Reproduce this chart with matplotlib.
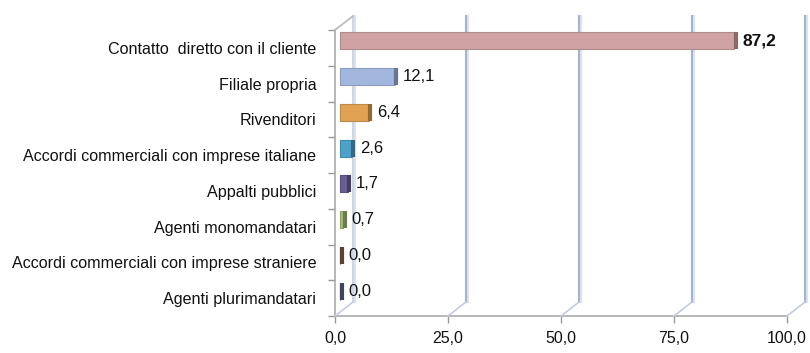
import matplotlib
matplotlib.use("Agg")
import matplotlib.pyplot as plt
import matplotlib.transforms as mtransforms
from matplotlib.colors import to_rgb

plt.rcParams['font.family'] = ['Liberation Sans', 'DejaVu Sans']

categories = [
    "Contatto  diretto con il cliente",
    "Filiale propria",
    "Rivenditori",
    "Accordi commerciali con imprese italiane",
    "Appalti pubblici",
    "Agenti monomandatari",
    "Accordi commerciali con imprese straniere",
    "Agenti plurimandatari",
]
values = [87.2, 12.1, 6.4, 2.6, 1.7, 0.7, 0.0, 0.0]
colors = ["#cfa3a3", "#a3b6de", "#e1a254", "#4ba3c9", "#6b5e96", "#a6bf72", "#8d6352", "#5f6a8c"]
xticks = [0, 25, 50, 75, 100]

W, H = 810, 353
fig = plt.figure(figsize=(W / 100, H / 100), dpi=100)
ax = fig.add_axes([335 / W, 1 - 316 / H, 452 / W, 286 / H])


def shift(dx, dy):
    # pixel offset (dpi is 100)
    return mtransforms.ScaledTranslation(dx / 100, dy / 100, fig.dpi_scale_trans)


def darker(c, f=0.6):
    r, g, b = to_rgb(c)
    return (r * f, g * f, b * f)


DX, DY = 18, 14
grid_tr = ax.get_xaxis_transform() + shift(DX, DY)

# back wall vertical gridlines with a soft shadow
for t in xticks:
    main = "#d0d6e0" if t == 0 else "#a4b4d0"
    ax.plot([t, t], [0, 1], transform=grid_tr + shift(1.5, 0), color="#dde3ee", lw=1.6, clip_on=False, zorder=1)
    ax.plot([t, t], [0, 1], transform=grid_tr, color=main, lw=1.5, clip_on=False, zorder=1)
    # floor diagonal from tick to wall
    ax.annotate("", xy=(t, 0), xycoords=ax.get_xaxis_transform(),
                xytext=(DX * 0.72, DY * 0.72), textcoords="offset points",
                arrowprops=dict(arrowstyle="-", color="#c3ccdc", lw=1.2, shrinkA=0, shrinkB=0),
                annotation_clip=False)

# left wall top diagonal
ax.annotate("", xy=(0, 1), xycoords="axes fraction",
            xytext=(DX * 0.72, DY * 0.72), textcoords="offset points",
            arrowprops=dict(arrowstyle="-", color="#b9b9b9", lw=1.2, shrinkA=0, shrinkB=0),
            annotation_clip=False)

y = list(range(len(categories)))
bar_tr = ax.transData + shift(5, 7)
h = 0.48
ax.barh(y, values, height=h, color=colors, edgecolor=[darker(c, 0.85) for c in colors],
        linewidth=0.8, transform=bar_tr, zorder=3)
for yi, v, c in zip(y, values, colors):
    # right face of the bar
    ax.plot([v, v], [yi - h / 2, yi + h / 2], transform=ax.transData + shift(6.5, 7),
            color=darker(c, 0.65), lw=3, solid_capstyle="butt", zorder=4)
    bold = v == max(values)
    ax.text(v, yi, f"{v:.1f}".replace(".", ","), transform=ax.transData + shift(13, 7),
            ha="left", va="center", fontsize=12.5 if bold else 12,
            fontweight="bold" if bold else "normal", color="#111111", zorder=5)

ax.set_xlim(0, 100)
ax.set_ylim(len(categories) - 0.5, -0.5)

ax.set_yticks([i + 0.5 for i in range(-1, len(categories))])
ax.set_yticklabels([])
ax.set_yticks(y, minor=True)
ax.set_yticklabels(categories, minor=True, fontsize=11.6, color="#111111")
ax.tick_params(axis="y", which="major", length=5, color="#999999", width=1)
ax.tick_params(axis="y", which="minor", length=0, pad=13.5)

ax.set_xticks(xticks)
ax.set_xticklabels([f"{t:.1f}".replace(".", ",") for t in xticks], fontsize=11.5, color="#111111")
ax.tick_params(axis="x", length=5, color="#999999", width=1, pad=6)

for s in ["top", "right"]:
    ax.spines[s].set_visible(False)
for s in ["left", "bottom"]:
    ax.spines[s].set_color("#aaaaaa")
    ax.spines[s].set_linewidth(1.2)

fig.savefig("out.png", dpi=100, facecolor="white")
